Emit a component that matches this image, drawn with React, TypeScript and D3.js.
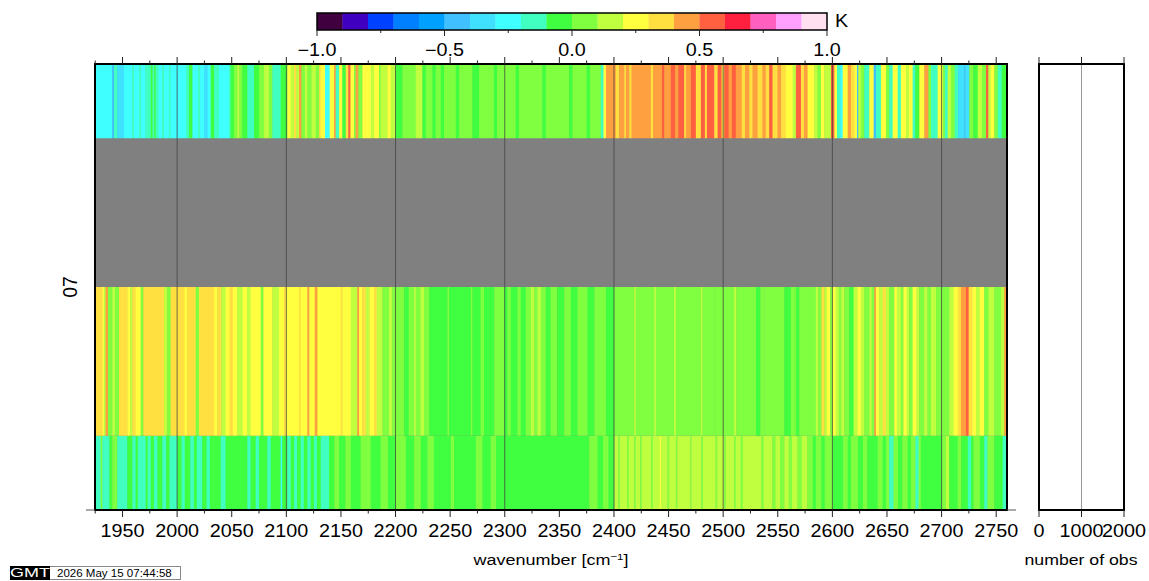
import React from "react";
import * as d3 from "d3";

const paletteColors = ["#400040","#4000c0","#0040ff","#0080ff","#00a0ff","#40c0ff","#40e0ff","#40ffff","#40ffc0","#40ff40","#80ff40","#c0ff40","#ffff40","#ffe040","#ffa040","#ff6040","#ff2040","#ff60c0","#ffa0ff","#ffe0f0"];
const colorBarTicks = [-1, -0.5, 0, 0.5, 1];
const colorBarMinor = [-0.75, -0.25, 0.25, 0.75];
const wavenumberLabels = [1950,2000,2050,2100,2150,2200,2250,2300,2350,2400,2450,2500,2550,2600,2650,2700,2750];
const wavenumberMinor = [1925,1975,2025,2075,2125,2175,2225,2275,2325,2375,2425,2475,2525,2575,2625,2675,2725];
const gridLines = [2000,2100,2200,2300,2400,2500,2600,2700];
const obsTicks = [0, 1000, 2000];

// bin centre values (K)
const A = -0.45, B = -0.35, C = -0.25, T = -0.15, G = -0.05, L = 0.05, V = 0.15, Y = 0.25, O = 0.35, P = 0.45, R = 0.55;

// each run: [wavenumber where it ends, value]; a run starts where the previous one ended
const topRow: [number, number][] = [
[1940.6,C],[1942.2,A],[1945.2,T],[1951.3,B],[1959,C],[1960.5,T],[1965,C],[1967,T],[1971,C],[1975.8,T],[1977.5,G],[1979,T],[1980.3,G],[1983,T],[1986.4,C],[1988,T],[1992.5,C],[1994,T],[1997,C],[2000.2,C],[2008,C],[2010.9,T],[2014,G],[2019,C],[2021,T],[2024.6,C],[2028,B],[2030.7,C],[2033.8,G],[2038.3,T],[2047.5,C],[2049,T],[2052,G],[2055.1,L],[2057,V],[2059.7,L],[2064.3,G],[2070.4,T],[2075,G],[2079.6,L],[2084,V],[2087.2,L],[2094.8,T],[2100.9,G],[2104,Y],[2107,V],[2109,O],[2111.6,V],[2113.8,P],[2117,L],[2119.3,V],[2123,L],[2127,V],
[2130,L],[2131.5,O],[2135.4,Y],[2139.7,C],[2143.7,Y],[2145.2,P],[2148.3,T],[2151.3,Y],[2154.4,G],[2156.8,O],[2158.7,R],[2162,Y],[2163.5,L],[2166,P],[2169.6,L],[2173,Y],[2177.3,Y],[2180.3,V],[2184.9,Y],[2186.4,L],[2192.5,V],[2195.6,Y],[2200.2,V],[2206.3,G],[2212,L],[2218.5,L],[2224.6,V],[2227.7,G],[2233.8,L],[2236.8,G],[2241.4,L],[2244.4,G],[2255.1,L],[2258.2,G],[2270.4,L],[2276.5,G],[2290,L],[2293,G],[2310,L],[2313,G],[2334.5,L],[2337.6,G],[2359,L],[2362,G],[2375,L],[2378,G],[2388,L],
[2390.4,T],[2392.6,Y],[2401.7,P],[2404.8,O],[2409.4,P],[2410.9,O],[2414,P],[2416.1,O],[2433.8,P],[2435.9,O],[2444,P],[2446,R],[2452.1,P],[2456,R],[2459,P],[2464.3,R],[2465.9,O],[2470.4,P],[2475,R],[2479.6,O],[2483.3,R],[2485.1,O],[2491.8,R],[2494.9,O],[2498.5,R],[2501,O],[2505,R],[2508,P],[2511.6,R],[2517,P],[2520,O],[2523.9,P],[2526.9,O],[2531.5,P],[2536,O],[2539,P],[2542.2,O],[2545.2,R],[2549.8,O],[2553,P],[2557.4,O],[2563.6,Y],[2566.6,V],[2571.2,R],[2574,O],[2577.3,P],[2583.4,Y],[2586.4,V],[2589.5,L],[2592.6,Y],[2598.7,V],
[2601.8,R],[2604.2,Y],[2607.2,T],[2609.4,C],[2614,Y],[2617,P],[2620,O],[2622.5,Y],[2623.7,A],[2626,V],[2629.2,L],[2633.8,T],[2637.8,Y],[2639.9,A],[2644.5,T],[2649.1,Y],[2652.1,L],[2655.2,T],[2659.8,Y],[2662.8,T],[2667.4,Y],[2670,V],[2673.5,Y],[2676,T],[2679.6,G],[2684.2,Y],[2687.9,P],[2690.3,L],[2696.4,T],[2701,Y],[2703,L],[2705.6,T],[2708.6,V],[2712,L],[2715.3,T],[2720.8,B],[2721.7,A],[2725.4,B],[2729,L],[2733,G],[2737,V],[2740.7,L],[2742.8,R],[2745,V],[2748.3,Y],[2751.4,L],[2755,T],[2759.9,G]
];

const middleRow: [number, number][] = [
[1931.5,O],[1933,Y],[1934.5,V],[1936.7,P],[1940.6,L],[1943,V],[1946.8,L],[1954.4,O],[1957,Y],[1959,V],[1962,O],[1966.6,Y],[1969,L],[1988,O],[1991,V],[1994,L],[2006.9,O],[2009.3,Y],[2017,O],[2020,L],[2033.8,O],[2036.8,Y],[2040.5,O],[2044.4,V],[2048,Y],[2051,O],[2055.1,Y],[2060,V],[2064,Y],[2067.3,V],[2076.5,Y],[2079,L],[2087.2,Y],[2093.3,V],[2098,Y],[2100,O],[2111.6,Y],[2113.1,O],[2119.3,Y],[2121,P],[2126,Y],[2128.4,P],[2149.8,Y],[2151.3,O],[2159,Y],[2165,V],[2166.6,P],[2169.6,Y],[2172.7,O],[2176,V],[2180.3,Y],[2182.8,O],[2188,V],[2194,L],[2197,V],[2200.2,L],[2208,L],[2212,G],[2217,L],[2218.5,V],[2223,L],[2226,V],[2230.8,L],
[2247.5,G],[2249,L],[2269,G],[2270.4,L],[2278,G],[2281,L],[2290.3,G],[2299.4,L],[2302.5,G],[2305.5,L],[2311.7,G],[2314.7,L],[2319.3,G],[2324,L],[2327,V],[2330,L],[2333,V],[2337.6,L],[2342,G],[2348,L],[2354.4,G],[2360.5,L],[2366.6,G],[2375.8,L],[2382,G],[2388,L],[2392.6,L],[2400.2,G],
[2418.5,L],[2420,V],[2436.8,L],[2438.4,V],[2455,L],[2456.7,V],[2479.6,L],[2481,V],[2491.8,L],[2510,L],[2512,V],[2516.2,L],[2530,L],[2534,G],[2537.6,L],[2556,L],[2558,G],[2562,G],[2566.6,L],[2569.7,G],[2584.9,L],[2587,V],[2590,L],[2592.6,O],[2595,V],[2598,Y],[2600.2,L],[2603,Y],[2606,V],[2608,L],[2610.9,V],[2615.5,L],[2619.4,G],[2623,V],[2626,Y],[2629.2,V],[2633.8,L],[2636,V],[2638.4,L],[2639.9,P],[2643,Y],[2646,V],[2649,O],[2652,V],[2656.7,L],[2659,Y],[2662.8,V],[2665,L],[2668,Y],[2670.4,V],[2673.5,L],[2677,Y],[2679.6,V],[2684,L],[2687,V],[2690.3,L],[2695,V],[2701,L],[2707,L],[2711,V],[2714.7,Y],[2717.7,O],[2722.3,P],[2724.8,R],[2728,O],[2731.5,Y],[2735,V],[2739,Y],[2743,L],[2748.3,V],[2754.4,L],[2757.4,V],[2759.9,P]
];

const bottomRow: [number, number][] = [
[1930,T],[1931.5,L],[1933,T],[1938,T],[1940.6,G],[1945.2,L],[1947.7,T],[1954.4,T],[1956,G],[1959,G],[1962,T],[1964,G],[1966.6,T],[1971.2,T],[1973,G],[1975.8,T],[1978.8,G],[1982,T],[1986.4,G],[1990,T],[1993,G],[2000.2,T],[2004,G],[2007,T],[2012,G],[2015.4,T],[2018,G],[2023,T],[2027,G],[2030,T],[2039.9,G],[2044.4,T],[2064.3,G],[2067.3,T],[2072,G],[2075,T],[2082.6,G],[2085.7,T],[2094.8,G],[2096.3,C],[2100.9,G],[2104,T],[2107,G],[2110,T],[2113.1,G],[2116,T],[2119.3,G],[2122.3,T],[2125.3,G],[2128,T],[2131.5,G],[2139.1,T],[2144,G],[2148.3,L],[2154,G],[2159,L],[2168.1,G],[2177.3,L],[2186.4,G],[2193,L],[2200.2,G],
[2209.4,L],[2217,G],[2223.1,L],[2229.2,G],[2235,L],[2239.9,G],[2250.6,G],[2253.6,L],[2273.5,G],[2279.6,L],[2287.2,G],[2292,L],[2299.4,G],[2377.3,G],[2385,L],[2390,G],[2395,L],[2400.2,G],
[2404,V],[2405.5,L],[2412,V],[2413.5,L],[2418.5,V],[2420,L],[2424,V],[2425.5,L],[2434,V],[2435.5,L],[2442,V],[2443,Y],[2449,V],[2450.5,L],[2456.7,V],[2458,L],[2470,V],[2471,L],[2480,V],[2481.5,L],[2493,V],[2494.5,L],[2500.9,V],[2502.5,L],[2510,V],[2511.5,L],[2516,V],[2518,L],[2526,V],[2530,V],[2535,V],[2537,L],[2545,V],[2548,L],[2552,V],[2556,L],[2560,V],[2563,L],[2568,V],[2572,L],[2577,V],[2582,L],[2584.9,G],[2590,L],[2593,G],[2600.2,L],[2604,G],[2609.8,G],[2614,L],[2617,G],[2623.4,L],[2628,G],[2632,L],[2636,G],[2641.5,G],[2646,L],[2649,G],[2652,L],[2656,T],[2660,L],[2664,G],[2668.9,L],[2672,G],[2676,L],[2679,T],[2681,L],[2691,G],[2700,G],[2704,L],[2707,V],[2714.7,G],[2718,L],[2724,G],[2727,T],[2729.2,G],[2735,L],[2739,G],[2742,T],[2748.3,L],[2755.9,G],[2759.9,T]
];

const W = 1149, H = 581;
const plot = { left: 95, right: 1007, top: 64, bottom: 510 };
const obsPanel = { left: 1039, right: 1124 };
const bar = { left: 317, right: 827, top: 13, bottom: 30 };
const FONT = "'Liberation Sans', Arial, sans-serif";

const x = d3.scaleLinear().domain([1924.8, 2759.9]).range([plot.left, plot.right]);
const y = d3.scaleLinear().domain([0, 3]).range([plot.bottom, plot.top]);
const xObs = d3.scaleLinear().domain([0, 2000]).range([obsPanel.left, obsPanel.right]);
const xBar = d3.scaleLinear().domain([-1, 1]).range([bar.left, bar.right]);
const color = d3.scaleQuantize<string>().domain([-1, 1]).range(paletteColors);
const barSteps = d3.range(paletteColors.length).map((i) => -1 + i * 0.1);

const rows: { level: number; runs: [number, number][] }[] = [
  { level: 0, runs: bottomRow },
  { level: 1, runs: middleRow },
  { level: 3, runs: topRow },
];

function Txt({ x: px, y: py, children, size = 17.5, anchor = "middle", sx = 1.13, rotate = 0 }: any) {
  const t = rotate ? `translate(${px},${py}) rotate(${rotate})` : `translate(${px},${py}) scale(${sx},1)`;
  return <text transform={t} fontFamily={FONT} fontSize={size} textAnchor={anchor} fill="#000">{children}</text>;
}

function Row({ level, runs }: { level: number; runs: [number, number][] }) {
  const y0 = y(Math.max(level - 0.5, 0));
  const y1 = y(Math.min(level + 0.5, 3));
  let start = x.domain()[0];
  return (
    <g clipPath={`url(#clip${level})`}>
      <clipPath id={`clip${level}`}><rect x={plot.left} y={y1} width={plot.right - plot.left} height={y0 - y1} /></clipPath>
      <g filter="url(#soften)">
        {runs.map(([end, value], i) => {
          const from = start;
          start = end;
          return <rect key={i} x={x(from)} y={y1 - 3} width={Math.max(x(end) - x(from) + 0.4, 0)} height={y0 - y1 + 6} fill={color(value)} />;
        })}
      </g>
    </g>
  );
}

export default function App() {
  return (
    <svg width={W} height={H} viewBox={`0 0 ${W} ${H}`} style={{ position: "absolute", left: 0, top: 0, background: "#fff" }}>
      <defs>
        <filter id="soften" filterUnits="userSpaceOnUse" x={80} y={50} width={940} height={480}>
          <feGaussianBlur stdDeviation="0.55 0" />
        </filter>
      </defs>
      {/* colour bar */}
      {barSteps.map((v) => (
        <rect key={v} x={xBar(v)} y={bar.top} width={xBar(v + 0.1) - xBar(v) + 0.3} height={bar.bottom - bar.top} fill={color(v + 0.05)} />
      ))}
      <rect x={bar.left} y={bar.top} width={bar.right - bar.left} height={bar.bottom - bar.top} fill="none" stroke="#000" strokeWidth={1.5} />
      {colorBarTicks.map((t) => (
        <g key={t}>
          <line x1={xBar(t)} x2={xBar(t)} y1={bar.bottom} y2={bar.bottom + 6} stroke="#222" strokeWidth={1} />
          <Txt x={xBar(t)} y={56}>{d3.format(".1f")(t).replace("-", "\u2212")}</Txt>
        </g>
      ))}
      {colorBarMinor.map((t) => (
        <line key={t} x1={xBar(t)} x2={xBar(t)} y1={bar.bottom} y2={bar.bottom + 3} stroke="#222" strokeWidth={1} />
      ))}
      <Txt x={835} y={27} anchor="start">K</Txt>

      {/* main panel */}
      <rect x={plot.left} y={plot.top} width={plot.right - plot.left} height={plot.bottom - plot.top} fill="#808080" />
      {rows.map((r) => <Row key={r.level} level={r.level} runs={r.runs} />)}
      {gridLines.map((g) => (
        <line key={g} x1={x(g)} x2={x(g)} y1={plot.top} y2={plot.bottom} stroke="#404040" strokeWidth={1} strokeOpacity={0.75} />
      ))}
      <rect x={plot.left} y={plot.top} width={plot.right - plot.left} height={plot.bottom - plot.top} fill="none" stroke="#000" strokeWidth={2} />

      {wavenumberLabels.map((t) => (
        <g key={t}>
          <line x1={x(t)} x2={x(t)} y1={plot.top - 7} y2={plot.top} stroke="#222" strokeWidth={1} />
          <line x1={x(t)} x2={x(t)} y1={plot.bottom} y2={plot.bottom + 7} stroke="#222" strokeWidth={1} />
          <Txt x={x(t)} y={537}>{t}</Txt>
        </g>
      ))}
      {wavenumberMinor.map((t) => (
        <g key={t}>
          <line x1={x(t)} x2={x(t)} y1={plot.top - 3.5} y2={plot.top} stroke="#222" strokeWidth={1} />
          <line x1={x(t)} x2={x(t)} y1={plot.bottom} y2={plot.bottom + 3.5} stroke="#222" strokeWidth={1} />
        </g>
      ))}
      <line x1={plot.left - 9} x2={plot.left} y1={plot.bottom} y2={plot.bottom} stroke="#555" strokeWidth={1} />
      <line x1={plot.right} x2={plot.right + 9} y1={plot.bottom} y2={plot.bottom} stroke="#555" strokeWidth={1} />
      <Txt x={77} y={y(1.5)} rotate={-90} size={19.5}>07</Txt>
      <Txt x={551} y={565} size={15} sx={1.2}>wavenumber [cm<tspan dy={-5} fontSize={9.5}>−1</tspan><tspan dy={5}>]</tspan></Txt>

      {/* observation count panel */}
      <line x1={xObs(1000)} x2={xObs(1000)} y1={plot.top} y2={plot.bottom} stroke="#999" strokeWidth={1} />
      <rect x={obsPanel.left} y={plot.top} width={obsPanel.right - obsPanel.left} height={plot.bottom - plot.top} fill="none" stroke="#000" strokeWidth={2} />
      {obsTicks.map((t) => (
        <g key={t}>
          <line x1={xObs(t)} x2={xObs(t)} y1={plot.top - 7} y2={plot.top} stroke="#222" strokeWidth={1} />
          <line x1={xObs(t)} x2={xObs(t)} y1={plot.bottom} y2={plot.bottom + 7} stroke="#222" strokeWidth={1} />
          <Txt x={xObs(t)} y={537}>{t}</Txt>
        </g>
      ))}
      <Txt x={1081} y={565} size={15} sx={1.18}>number of obs</Txt>

      {/* time stamp */}
      <rect x={10.5} y={566.5} width={170} height={13} fill="#fff" stroke="#888" strokeWidth={1} />
      <rect x={10} y={566} width={40} height={14} fill="#000" />
      <Txt x={30} y={577} size={12} sx={1.5}><tspan fill="#fff">GMT</tspan></Txt>
      <Txt x={57} y={577} size={10.5} anchor="start" sx={1.1}>2026 May 15 07:44:58</Txt>
    </svg>
  );
}
